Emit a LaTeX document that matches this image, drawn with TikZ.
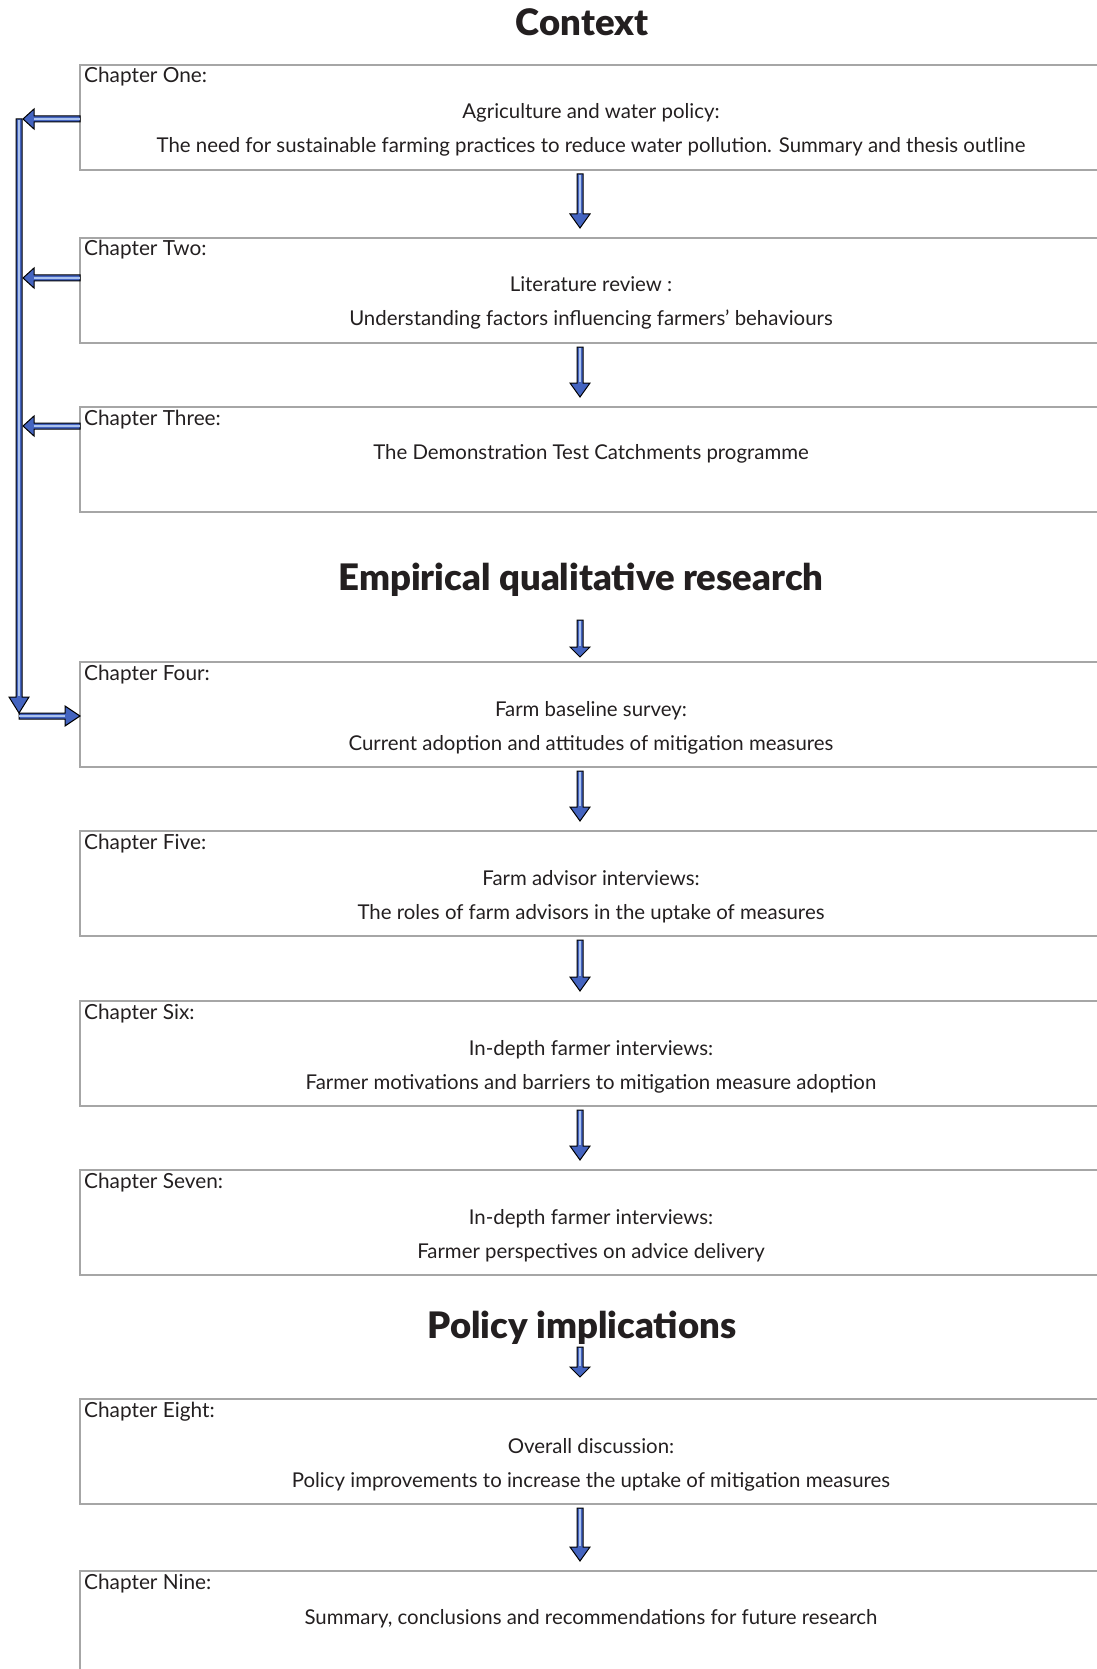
\documentclass[tikz,border=0pt]{standalone}
\usepackage{fontspec}
\setmainfont{Lato}
\newfontfamily\headfont{Lato Black}
\usetikzlibrary{calc}
\definecolor{boxgray}{RGB}{166,166,166}
\definecolor{inkgray}{RGB}{35,31,32}
\definecolor{arrowblue}{RGB}{68,100,192}
\definecolor{shineblue}{RGB}{170,194,238}

% vertical block arrow: start, tip, head length
\newcommand\vblock[3]{%
  \filldraw[blockarrow] ($(#1)+(-3,0)$) -- ($(#2)+(-3,-#3)$) -- ($(#2)+(-10,-#3)$) -- (#2)
    -- ($(#2)+(10,-#3)$) -- ($(#2)+(3,-#3)$) -- ($(#1)+(3,0)$) -- cycle;
  \draw[shine] ($(#1)+(0,1)$) -- ($(#2)+(0,-#3-1)$);}
% horizontal block arrow: start, tip, signed head length
\newcommand\hblock[3]{%
  \filldraw[blockarrow] ($(#1)+(0,-3)$) -- ($(#2)+(#3,-3)$) -- ($(#2)+(#3,-10)$) -- (#2)
    -- ($(#2)+(#3,10)$) -- ($(#2)+(#3,3)$) -- ($(#1)+(0,3)$) -- cycle;
  \draw[shine] ($(#1)+(0,0)$) -- ($(#2)+(#3,0)$);}

\begin{document}
\begin{tikzpicture}[x=1pt,y=-1pt,
  chbox/.style={draw=boxgray, line width=2pt, minimum width=1022pt, minimum height=105pt,
    inner sep=0pt, outer sep=0pt, anchor=north west},
  chap/.style={anchor=base west, inner sep=0pt, font=\fontsize{20.8}{24}\selectfont, text=inkgray},
  txt/.style={anchor=base, inner sep=0pt, font=\fontsize{20.4}{24}\selectfont, text=inkgray},
  head/.style={anchor=base, inner sep=0pt, font=\headfont\fontsize{36.5}{44}\selectfont, text=inkgray},
  blockarrow/.style={draw=black, line width=1pt, fill=arrowblue, line join=miter},
  shine/.style={draw=shineblue, line width=1.5pt}]
\useasboundingbox (0,0) rectangle (1096,1669);

% section headings
\node[head] (t1) at (582,36) {Context};
\node[head] (t2) at (581,590) {Empirical qualitative research};
\node[head] (t3) at (582,1338) {Policy implications};

% chapter boxes
\node[chbox] (b1) at (80,65) {};
\node[chbox] (b2) at (80,238) {};
\node[chbox] (b3) at (80,407) {};
\node[chbox] (b4) at (80,662) {};
\node[chbox] (b5) at (80,831) {};
\node[chbox] (b6) at (80,1001) {};
\node[chbox] (b7) at (80,1170) {};
\node[chbox] (b8) at (80,1399) {};
\node[chbox, minimum height=150pt] (b9) at (80,1571) {};

% box texts
\node[chap] (c1) at ($(b1.north west)+(4,18)$) {Chapter One:};
\node[txt] (c1a) at ($(b1.north)+(0,54)$) {Agriculture and water policy:};
\node[txt] (c1b) at ($(b1.north)+(0,88)$) {The need for sustainable farming practices to reduce water pollution. Summary and thesis outline};

\node[chap] (c2) at ($(b2.north west)+(4,18)$) {Chapter Two:};
\node[txt] (c2a) at ($(b2.north)+(0,54)$) {Literature review :};
\node[txt] (c2b) at ($(b2.north)+(0,88)$) {Understanding factors influencing farmers’ behaviours};

\node[chap] (c3) at ($(b3.north west)+(4,18)$) {Chapter Three:};
\node[txt] (c3a) at ($(b3.north)+(0,52)$) {The Demonstration Test Catchments programme};

\node[chap] (c4) at ($(b4.north west)+(4,18)$) {Chapter Four:};
\node[txt] (c4a) at ($(b4.north)+(0,54)$) {Farm baseline survey:};
\node[txt] (c4b) at ($(b4.north)+(0,88)$) {Current adoption and attitudes of mitigation measures};

\node[chap] (c5) at ($(b5.north west)+(4,18)$) {Chapter Five:};
\node[txt] (c5a) at ($(b5.north)+(0,54)$) {Farm advisor interviews:};
\node[txt] (c5b) at ($(b5.north)+(0,88)$) {The roles of farm advisors in the uptake of measures};

\node[chap] (c6) at ($(b6.north west)+(4,18)$) {Chapter Six:};
\node[txt] (c6a) at ($(b6.north)+(0,54)$) {In-depth farmer interviews:};
\node[txt] (c6b) at ($(b6.north)+(0,88)$) {Farmer motivations and barriers to mitigation measure adoption};

\node[chap] (c7) at ($(b7.north west)+(4,18)$) {Chapter Seven:};
\node[txt] (c7a) at ($(b7.north)+(0,54)$) {In-depth farmer interviews:};
\node[txt] (c7b) at ($(b7.north)+(0,88)$) {Farmer perspectives on advice delivery};

\node[chap] (c8) at ($(b8.north west)+(4,18)$) {Chapter Eight:};
\node[txt] (c8a) at ($(b8.north)+(0,54)$) {Overall discussion:};
\node[txt] (c8b) at ($(b8.north)+(0,88)$) {Policy improvements to increase the uptake of mitigation measures};

\node[chap] (c9) at ($(b9.north west)+(4,18)$) {Chapter Nine:};
\node[txt] (c9a) at ($(b9.north)+(0,53)$) {Summary, conclusions and recommendations for future research};

% downward arrows between boxes
\foreach \u/\l in {b1/b2, b2/b3, b4/b5, b5/b6, b6/b7, b8/b9}{
  \coordinate (s) at ($(\u.south)+(-11,4)$);
  \coordinate (e) at ($(\l.north)+(-11,-10)$);
  \vblock{s}{e}{14}
}
% short arrows under the headings
\coordinate (h1s) at ($(b4.north)+(-11,-42)$);
\coordinate (h1e) at ($(b4.north)+(-11,-5)$);
\vblock{h1s}{h1e}{10}
\coordinate (h2s) at ($(b8.north)+(-11,-52)$);
\coordinate (h2e) at ($(b8.north)+(-11,-22)$);
\vblock{h2s}{h2e}{10}

% feedback bracket on the left
\coordinate (bartop) at (19,119);
\coordinate (barend) at (19,713);
\vblock{bartop}{barend}{16}
\coordinate (l1) at ($(b1.north west)+(0,54)$);
\coordinate (l2) at ($(b2.north west)+(0,40)$);
\coordinate (l3) at ($(b3.north west)+(0,19)$);
\foreach \p in {l1,l2,l3}{
  \coordinate (q) at (bartop |- \p);
  \hblock{\p}{$(q)+(4,0)$}{11}
}
\coordinate (r0) at ($(barend)+(0,3)$);
\coordinate (r1) at ($(b4.north west)+(0,54)$);
\hblock{r0}{r1}{-15}
\end{tikzpicture}
\end{document}
